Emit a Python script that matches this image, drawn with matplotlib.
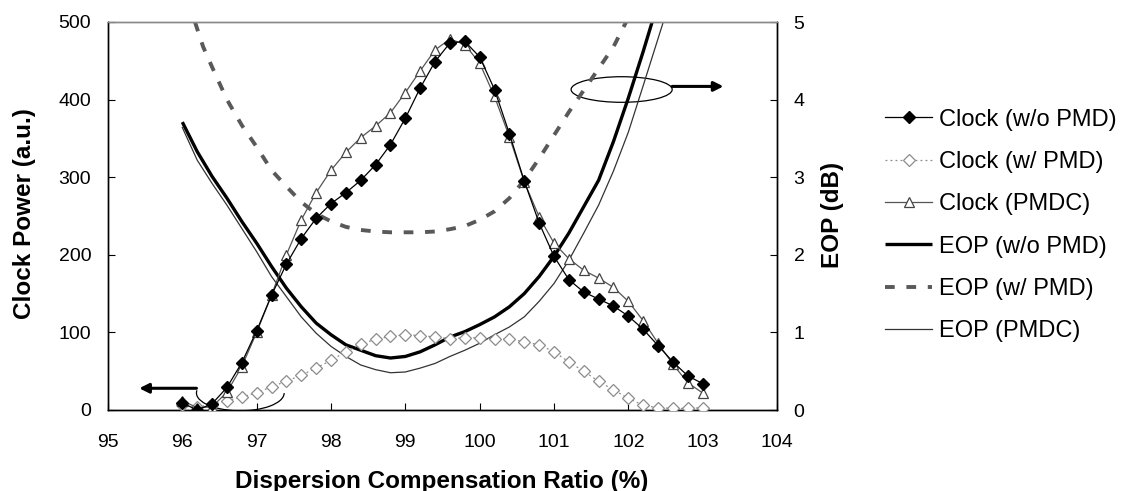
import matplotlib
matplotlib.use("Agg")
import matplotlib.pyplot as plt
from matplotlib.patches import Arc, Ellipse

plt.rcParams['font.family'] = ['Liberation Sans', 'DejaVu Sans']

# ---------------- data ----------------
ratio = [96.0, 96.2, 96.4, 96.6, 96.8, 97.0, 97.2, 97.4, 97.6, 97.8,
         98.0, 98.2, 98.4, 98.6, 98.8, 99.0, 99.2, 99.4, 99.6, 99.8,
         100.0, 100.2, 100.4, 100.6, 100.8, 101.0, 101.2, 101.4, 101.6, 101.8,
         102.0, 102.2, 102.4, 102.6, 102.8, 103.0]

clock_wo_pmd = [9, 0, 8, 29, 61, 102, 148, 188, 221, 247,
                266, 280, 296, 316, 342, 376, 415, 449, 473, 475,
                455, 413, 356, 295, 241, 198, 168, 152, 143, 134,
                121, 104, 83, 62, 44, 34]

clock_w_pmd = [6, 4, 7, 12, 17, 22, 30, 37, 45, 54,
               64, 75, 85, 91, 95, 97, 96, 94, 92, 93,
               93, 92, 91, 88, 84, 75, 62, 50, 37, 26,
               15, 6, 3, 2, 2, 3]

clock_pmdc = [12, 3, 4, 23, 56, 100, 148, 200, 245, 280,
              309, 332, 351, 366, 383, 409, 437, 464, 478, 471,
              447, 404, 352, 294, 249, 215, 195, 180, 170, 158,
              140, 115, 86, 59, 35, 22]

eop_wo_x = [96.0, 96.2, 96.4, 96.6, 96.8, 97.0, 97.2, 97.4, 97.6, 97.8,
            98.0, 98.2, 98.4, 98.6, 98.8, 99.0, 99.2, 99.4, 99.6, 99.8,
            100.0, 100.2, 100.4, 100.6, 100.8, 101.0, 101.2, 101.4, 101.6, 101.8,
            102.0, 102.2, 102.32]
eop_wo_pmd = [3.71, 3.33, 3.01, 2.73, 2.43, 2.15, 1.85, 1.57, 1.33, 1.12,
              0.97, 0.84, 0.77, 0.70, 0.67, 0.69, 0.75, 0.84, 0.94, 1.01,
              1.10, 1.20, 1.33, 1.50, 1.72, 1.98, 2.28, 2.62, 2.96, 3.46,
              4.02, 4.62, 5.0]

eop_w_x = [96.17, 96.28, 96.4, 96.6, 96.8, 97.0, 97.2, 97.4, 97.6, 97.8,
           98.0, 98.2, 98.4, 98.6, 98.8, 99.0, 99.2, 99.4, 99.6, 99.8,
           100.0, 100.2, 100.4, 100.6, 100.8, 101.0, 101.2, 101.4, 101.6, 101.8,
           101.97]
eop_w_pmd = [5.0, 4.68, 4.42, 4.0, 3.67, 3.39, 3.09, 2.88, 2.68, 2.53,
             2.43, 2.36, 2.32, 2.30, 2.29, 2.29, 2.29, 2.30, 2.33, 2.37,
             2.45, 2.56, 2.73, 2.96, 3.24, 3.54, 3.84, 4.12, 4.40, 4.68,
             5.0]

eop_pmdc_x = [96.0, 96.2, 96.4, 96.6, 96.8, 97.0, 97.2, 97.4, 97.6, 97.8,
              98.0, 98.2, 98.4, 98.6, 98.8, 99.0, 99.2, 99.4, 99.6, 99.8,
              100.0, 100.2, 100.4, 100.6, 100.8, 101.0, 101.2, 101.4, 101.6, 101.8,
              102.0, 102.2, 102.47]
eop_pmdc = [3.64, 3.22, 2.92, 2.64, 2.34, 2.04, 1.72, 1.46, 1.20, 0.99,
            0.82, 0.69, 0.58, 0.52, 0.48, 0.49, 0.54, 0.60, 0.69, 0.77,
            0.86, 0.97, 1.07, 1.20, 1.40, 1.63, 1.93, 2.28, 2.64, 3.08,
            3.58, 4.18, 5.0]

x_ticks = [95, 96, 97, 98, 99, 100, 101, 102, 103, 104]
left_ticks = [0, 100, 200, 300, 400, 500]
right_ticks = [0, 1, 2, 3, 4, 5]

# ---------------- figure ----------------
W, H = 1125, 491
fig = plt.figure(figsize=(W / 100, H / 100), dpi=100)
L, R, T, B = 108, 777, 22, 410
ax = fig.add_axes([L / W, 1 - B / H, (R - L) / W, (B - T) / H])
ax2 = ax.twinx()

ax.set_xlim(95, 104)
ax.set_ylim(0, 500)
ax2.set_ylim(0, 5)
ax.set_xticks(x_ticks)
ax.set_yticks(left_ticks)
ax2.set_yticks(right_ticks)

tick_fs = 14
ax.tick_params(axis='both', direction='in', length=5, width=0.8, labelsize=tick_fs)
ax.tick_params(axis='x', pad=17)
ax.tick_params(axis='y', pad=12)
ax2.tick_params(axis='y', direction='in', length=5, width=0.8, labelsize=tick_fs, pad=12)

for a in (ax, ax2):
    for s in ('left', 'right', 'bottom'):
        a.spines[s].set_color('black')
        a.spines[s].set_linewidth(1.0)
    a.spines['top'].set_color('#888888')
    a.spines['top'].set_linewidth(1.0)

# clock curves (left axis)
l1, = ax.plot(ratio, clock_wo_pmd, color='black', lw=0.9, marker='D', ms=6,
              mfc='black', mec='black', label='Clock (w/o PMD)', zorder=5)
l2, = ax.plot(ratio, clock_w_pmd, color='#8c8c8c', lw=0.9, ls=(0, (1.5, 2.5)), marker='D', ms=6,
              mfc='white', mec='#8c8c8c', mew=0.9, label='Clock (w/ PMD)', zorder=4)
l3, = ax.plot(ratio, clock_pmdc, color='#555555', lw=0.9, marker='^', ms=7,
              mfc='white', mec='#444444', mew=0.9, label='Clock (PMDC)', zorder=4)

# EOP curves (right axis)
l4, = ax2.plot(eop_wo_x, eop_wo_pmd, color='black', lw=2.4, label='EOP (w/o PMD)',
               solid_capstyle='butt')
l5, = ax2.plot(eop_w_x, eop_w_pmd, color='#595959', lw=2.8, ls=(0, (2.5, 3.0)),
               label='EOP (w/ PMD)', dash_capstyle='butt')
l6, = ax2.plot(eop_pmdc_x, eop_pmdc, color='#333333', lw=0.9, label='EOP (PMDC)')
ax2.set_zorder(ax.get_zorder() - 1)
ax.patch.set_visible(False)

# annotations
ax.add_patch(Arc((96.78, 22), 1.18, 46, theta1=100, theta2=345, color='black', lw=0.9))
ax.annotate('', xy=(95.42, 28), xytext=(96.19, 28),
            arrowprops=dict(arrowstyle='-|>', lw=2.2, color='black', mutation_scale=14,
                            shrinkA=0, shrinkB=0))
ax2.add_patch(Ellipse((101.91, 4.13), 1.36, 0.33, fill=False, color='black', lw=0.9))
ax2.annotate('', xy=(103.28, 4.17), xytext=(102.59, 4.17),
             arrowprops=dict(arrowstyle='-|>', lw=2.2, color='black', mutation_scale=14,
                             shrinkA=0, shrinkB=0))

# axis labels
lab_fs = 17.5
fig.text(25 / W, 1 - 214 / H, 'Clock Power (a.u.)', rotation=90, ha='center', va='center',
         fontsize=lab_fs, fontweight='bold')
fig.text(833 / W, 1 - 215 / H, 'EOP (dB)', rotation=90, ha='center', va='center',
         fontsize=lab_fs, fontweight='bold')
fig.text(442 / W, 1 - 479 / H, 'Dispersion Compensation Ratio (%)', ha='center', va='center_baseline',
         fontsize=lab_fs, fontweight='bold')

# legend
handles = [l1, l2, l3, l4, l5, l6]
fig.legend(handles=handles, labels=[h.get_label() for h in handles],
           loc='center left', bbox_to_anchor=(885 / W, 1 - 225.5 / H),
           frameon=False, fontsize=17, handlelength=2.0, handletextpad=0.3,
           labelspacing=0.86, borderpad=0, borderaxespad=0)

fig.savefig('out.png', dpi=100)
